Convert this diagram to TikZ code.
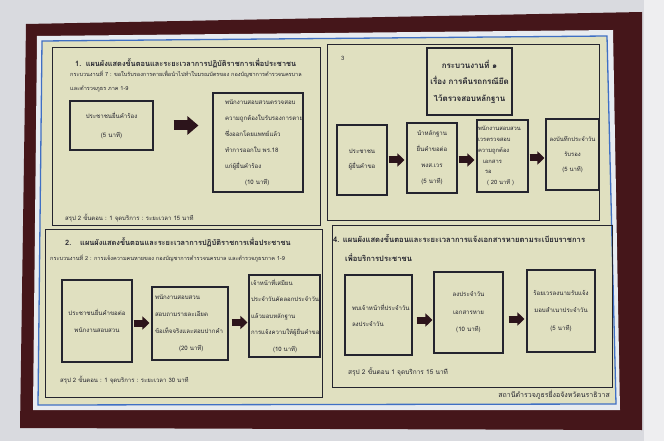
\documentclass[tikz,border=0pt]{standalone}
\usepackage{fontspec}
\newfontfamily\thai[Script=Thai]{Loma}
\usetikzlibrary{arrows.meta}
\definecolor{wall}{HTML}{D9DADF}
\definecolor{wallhi}{HTML}{EEEEF0}
\definecolor{frame}{HTML}{45161A}
\definecolor{mat}{HTML}{E7EBF0}
\definecolor{blueline}{HTML}{3F6FC4}
\definecolor{board}{HTML}{E0E0C0}
\definecolor{ink}{HTML}{24242E}
\definecolor{arrowc}{HTML}{2C141B}
\tikzset{
  panel/.style={draw=ink, line width=0.8pt},
  stepbox/.style={draw=ink, line width=1.1pt, inner xsep=3pt, inner ysep=0pt,
    text=ink, font=\fontsize{6.1}{16}\thai},
  headtext/.style={anchor=west, inner sep=0pt, text=ink, font=\fontsize{7.4}{9}\thai\bfseries},
  subtext/.style={anchor=west, inner sep=0pt, text=ink, font=\fontsize{5.55}{7}\thai},
  sumtext/.style={anchor=west, inner sep=0pt, text=ink, font=\fontsize{6}{7}\thai},
  flowarrow/.style={draw=arrowc, line width=7pt, -{Triangle[length=7pt,width=13pt]}},
}
\begin{document}
\begin{tikzpicture}[x=1pt, y=-1pt]
\useasboundingbox (0,0) rectangle (664,441);
% photo of the board
\fill[wall] (0,0) rectangle (664,441);
\fill[wallhi] (644,0) rectangle (664,441);
\fill[frame] (26,24) -- (642,12) -- (642,430) -- (20,428) -- cycle;
\fill[mat] (37,36) -- (613,30) -- (620,410) -- (33,410) -- cycle;
\fill[board] (42,41) -- (607,36) -- (616,404) -- (38,405) -- cycle;
\draw[blueline, line width=1.3pt] (42,41) -- (607,36) -- (616,404) -- (38,405) -- cycle;
\draw[panel] (52,47) rectangle (320,225);
\draw[panel] (327,44) rectangle (599,220);
\draw[panel] (45,229) rectangle (322,397);
\draw[panel] (332,225) rectangle (612,387);

% 1
\node[headtext] (h1) at (75,63) {1.\hspace{0.6em}แผนผังแสดงขั้นตอนและระยะเวลาการปฏิบัติราชการเพื่อประชาชน};
\node[subtext] (s1) at (70,74) {กระบวนงานที่ 7 : ขอใบรับรองการตายเพื่อนำไปทำใบมรณบัตรของ กองบัญชาการตำรวจนครบาล};
\node[subtext] (s1b) at (70,89) {และตำรวจภูธร ภาค 1-9};
\node[stepbox, minimum width=83, minimum height=49, align=center, font=\fontsize{6.1}{19}\thai] (b11) at (111.5,125.5) {ประชาชนยื่นคำร้อง\\(5 นาที)};
\node[stepbox, minimum width=90, minimum height=99, inner xsep=12pt, text width=66pt, align=left] (b12) at (258,142.5)
  {พนักงานสอบสวนตรวจสอบ\\ความถูกต้องใบรับรองการตาย\\ซึ่งออกโดยแพทย์แล้ว\\ทำการออกใบ พร.18\\แก่ผู้ยื่นคำร้อง\\\hspace*{20pt}(10 นาที)};
\draw[flowarrow, line width=10pt, -{Triangle[length=11pt,width=18pt]}, shorten <=20pt, shorten >=14pt] (b11.east) -- (b11.east -| b12.west);
\node[sumtext] (m1) at (65,218) {สรุป 2 ขั้นตอน : 1 จุดบริการ : ระยะเวลา 15 นาที};

% 3
\node[sumtext] (h3) at (341,58) {3};
\node[stepbox, minimum width=85, minimum height=67, align=center, font=\fontsize{8}{16.5}\thai\bfseries] (b30) at (469.5,81.5)
  {กระบวนงานที่ ๑\\เรื่อง การคืนรถกรณียึด\\ไว้ตรวจสอบหลักฐาน};
\node[stepbox, minimum width=50, minimum height=70, align=center, font=\fontsize{6.1}{15}\thai] (b31) at (362,160) {ประชาชน\\ผู้ยื่นคำขอ};
\node[stepbox, minimum width=50, minimum height=70, align=center] (b32) at (432,158) {นำหลักฐาน\\ยื่นคำขอต่อ\\พงส.เวร\\(5 นาที)};
\node[stepbox, minimum width=51, minimum height=72, inner xsep=1pt, text width=49pt, align=left, font=\fontsize{5.8}{10.8}\thai] (b33) at (502.5,156)
  {พนักงานสอบสวน\\เวรตรวจสอบ\\ความถูกต้อง\\\hspace*{5pt}เอกสาร\\\hspace*{7pt}รอ\\\hspace*{9pt}( 20 นาที )};
\node[stepbox, minimum width=53, minimum height=71, align=center, font=\fontsize{5.9}{15}\thai] (b34) at (572.5,154.5) {ลงบันทึกประจำวัน\\รับรอง\\(5 นาที)};
\draw[flowarrow, shorten <=1pt, shorten >=2pt] (b31.east) -- (b31.east -| b32.west);
\draw[flowarrow, shorten <=1pt, shorten >=2pt] ([yshift=-2pt]b32.east) -- ([yshift=-2pt]b32.east -| b33.west);
\draw[flowarrow, shorten <=1pt, shorten >=1pt] ([yshift=-2pt]b33.east) -- ([yshift=-2pt]b33.east -| b34.west);

% 2
\node[headtext] (h2) at (65,242) {2.\hspace{1.2em}แผนผังแสดงขั้นตอนและระยะเวลาการปฏิบัติราชการเพื่อประชาชน};
\node[subtext] (s2) at (50,258) {กระบวนงานที่ 2 : การแจ้งความคนหายของ กองบัญชาการตำรวจนครบาล และตำรวจภูธรภาค 1-9};
\node[stepbox, minimum width=70, minimum height=82, align=center, font=\fontsize{6.1}{17}\thai] (b21) at (97,321) {ประชาชนยื่นคำขอต่อ\\พนักงานสอบสวน};
\node[stepbox, minimum width=76, minimum height=73, text width=70pt, align=left, font=\fontsize{6.1}{17}\thai] (b22) at (190,323.5)
  {พนักงานสอบสวน\\สอบถามรายละเอียด\\ข้อเท็จจริงและสอบปากคำ\\\hspace*{24pt}(20 นาที)};
\node[stepbox, minimum width=71, minimum height=82, inner xsep=2pt, text width=67pt, align=left, font=\fontsize{6}{16.5}\thai] (b23) at (284.5,316)
  {เจ้าหน้าที่เสมียน\\ประจำวันคัดลอกประจำวัน\\แล้วมอบหลักฐาน\\การแจ้งความให้ผู้ยื่นคำขอ\\\hspace*{22pt}(10 นาที)};
\draw[flowarrow, shorten <=1pt, shorten >=2pt] ([yshift=-2pt]b21.east) -- ([yshift=-2pt]b21.east -| b22.west);
\draw[flowarrow, shorten <=3pt, shorten >=1pt] ([yshift=1pt]b22.east) -- ([yshift=1pt]b22.east -| b23.west);
\node[sumtext] (m2) at (60,380) {สรุป 2 ขั้นตอน : 1 จุดบริการ : ระยะเวลา 30 นาที};

% 4
\node[headtext, font=\fontsize{7.6}{9}\thai\bfseries] (h4) at (333,238) {4. แผนผังแสดงขั้นตอนและระยะเวลาการแจ้งเอกสารหายตามระเบียบราชการ};
\node[headtext, font=\fontsize{7.6}{9}\thai\bfseries] (h4b) at (345,258) {เพื่อบริการประชาชน};
\node[stepbox, minimum width=67, minimum height=80, inner xsep=7pt, text width=53pt, align=left] (b41) at (378.5,315) {พบเจ้าหน้าที่ประจำวัน\\ลงประจำวัน};
\node[stepbox, minimum width=69, minimum height=81, align=center, font=\fontsize{6.1}{17.5}\thai] (b42) at (468.5,312.5) {ลงประจำวัน\\เอกสารหาย\\(10 นาที)};
\node[stepbox, minimum width=68, minimum height=82, align=center, font=\fontsize{6.1}{17.5}\thai] (b43) at (561,311) {ร้อยเวรลงนามรับแจ้ง\\มอบสำเนาประจำวัน\\(5 นาที)};
\draw[flowarrow, shorten <=4pt, shorten >=1pt] ([yshift=-5pt]b41.east) -- ([yshift=-5pt]b41.east -| b42.west);
\draw[flowarrow, shorten <=5pt, shorten >=2pt] ([yshift=-6.5pt]b42.east) -- ([yshift=-6.5pt]b42.east -| b43.west);
\node[sumtext, font=\fontsize{6.5}{8}\thai] (m4) at (348,372) {สรุป 2 ขั้นตอน 1 จุดบริการ 15 นาที};
\node[sumtext, anchor=east, font=\fontsize{7}{8}\thai] (foot) at (610,395) {สถานีตำรวจภูธรยี่งอจังหวัดนราธิวาส};
\end{tikzpicture}
\end{document}
